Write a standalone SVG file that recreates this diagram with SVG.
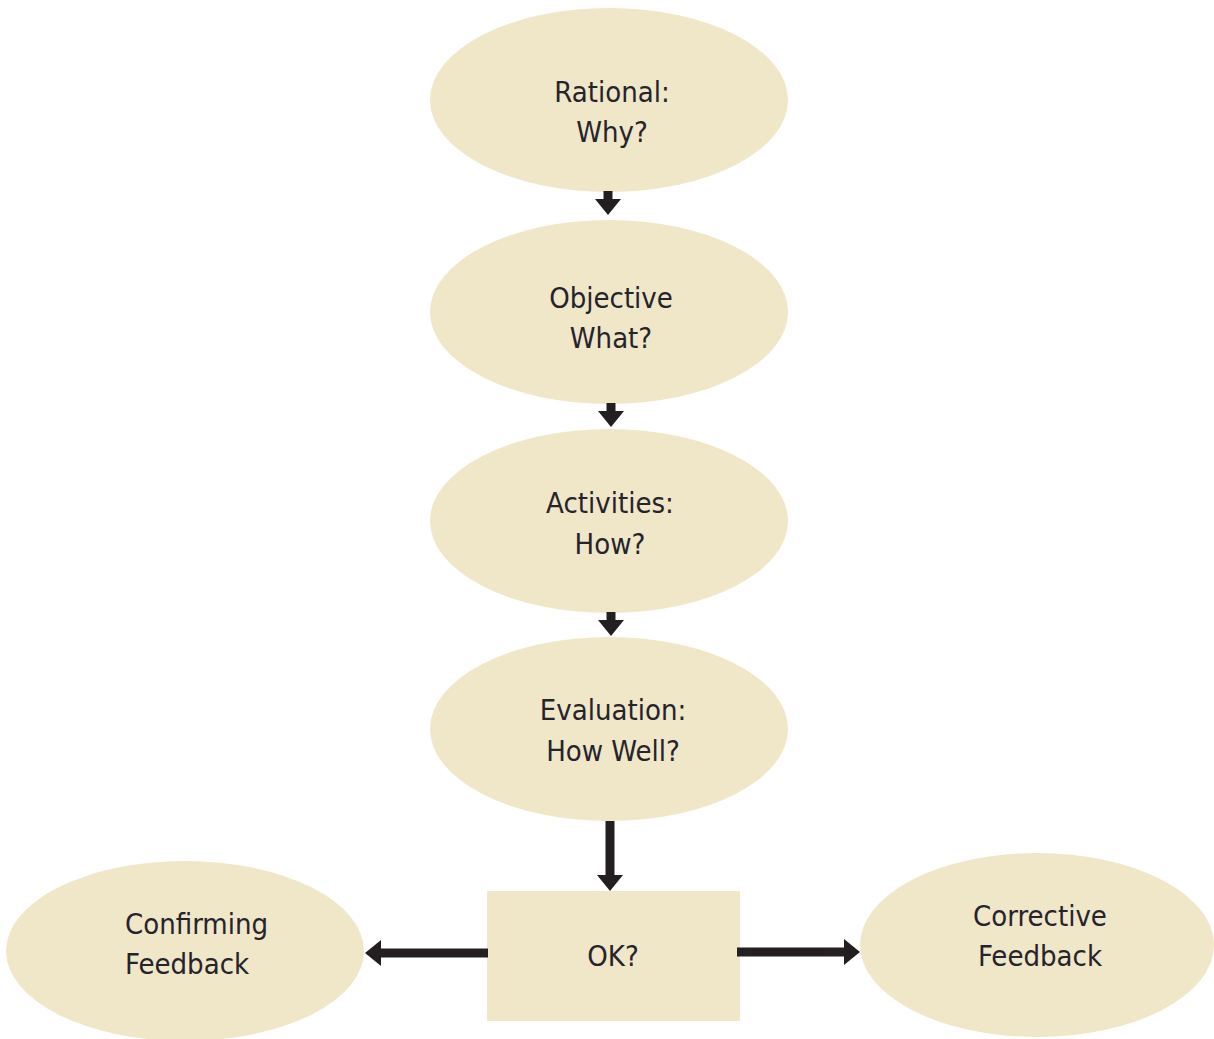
<svg xmlns="http://www.w3.org/2000/svg" width="1214" height="1039" viewBox="0 0 1214 1039">
  <defs>
    <style>
      .node { fill: #f0e6c8; }
      .label { font-family: "DejaVu Sans Condensed", "DejaVu Sans", sans-serif; font-stretch: condensed; font-size: 29px; fill: #25242c; }
      .mid { text-anchor: middle; }
      .edge { stroke: #231f20; fill: none; stroke-width: 9; }
    </style>
    <!-- wide, short triangular arrowhead; the line stops inside its base -->
    <marker id="head" viewBox="0 0 16 26" refX="2" refY="13" markerWidth="16" markerHeight="26" orient="auto" markerUnits="userSpaceOnUse">
      <path d="M0,0 L16,13 L0,26 Z" fill="#231f20"/>
    </marker>
  </defs>
  <rect width="1214" height="1039" fill="#ffffff"/>

  <g id="rational">
    <ellipse class="node" cx="609" cy="100" rx="179" ry="92"/>
    <text class="label mid" x="612" y="102">Rational:</text>
    <text class="label mid" x="612" y="142">Why?</text>
  </g>
  <g id="objective">
    <ellipse class="node" cx="609" cy="312" rx="179" ry="92"/>
    <text class="label mid" x="611" y="308">Objective</text>
    <text class="label mid" x="611" y="348">What?</text>
  </g>
  <g id="activities">
    <ellipse class="node" cx="609" cy="521" rx="179" ry="92"/>
    <text class="label mid" x="610" y="513">Activities:</text>
    <text class="label mid" x="610" y="554">How?</text>
  </g>
  <g id="evaluation">
    <ellipse class="node" cx="609" cy="729" rx="179" ry="92"/>
    <text class="label mid" x="613" y="720">Evaluation:</text>
    <text class="label mid" x="613" y="761">How Well?</text>
  </g>
  <g id="ok">
    <rect class="node" x="487" y="891" width="253" height="130"/>
    <text class="label mid" x="613" y="966">OK?</text>
  </g>
  <g id="confirming">
    <ellipse class="node" cx="185" cy="951" rx="179" ry="90"/>
    <text class="label" x="125" y="934">Confirming</text>
    <text class="label" x="125" y="974">Feedback</text>
  </g>
  <g id="corrective">
    <ellipse class="node" cx="1037" cy="945" rx="177" ry="92"/>
    <text class="label mid" x="1040" y="926">Corrective</text>
    <text class="label mid" x="1040" y="966">Feedback</text>
  </g>

  <g id="connectors">
    <path class="edge" d="M608,191 V201" marker-end="url(#head)"/>
    <path class="edge" d="M611,403 V413" marker-end="url(#head)"/>
    <path class="edge" d="M611,612 V622" marker-end="url(#head)"/>
    <path class="edge" d="M610,821 V877" marker-end="url(#head)"/>
    <path class="edge" d="M488,953 H379" marker-end="url(#head)"/>
    <path class="edge" d="M737,952 H846" marker-end="url(#head)"/>
  </g>
</svg>
